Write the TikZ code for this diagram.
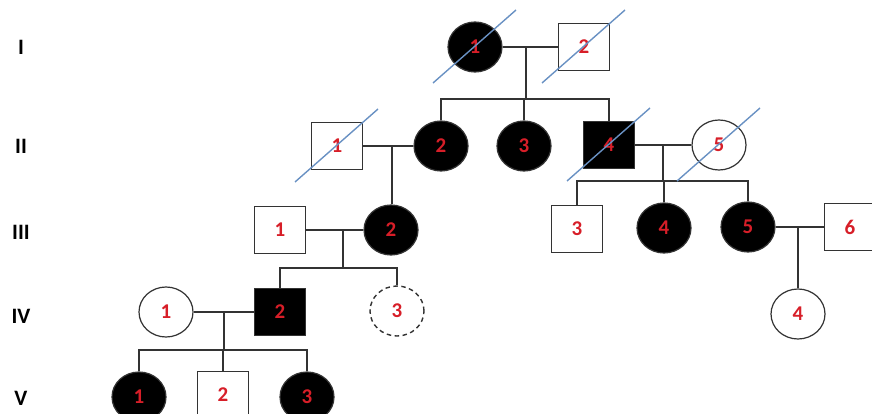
\documentclass[tikz,border=0pt]{standalone}
\usepackage{fontspec}
\setmainfont{Carlito}
\usetikzlibrary{shapes.geometric}
\definecolor{numred}{RGB}{215,30,40}
\definecolor{slashblue}{RGB}{105,145,195}
\tikzset{
	person/.style={draw=black!80, line width=1.2pt, inner sep=0pt, text=numred, font=\bfseries\fontsize{21}{24}\selectfont},
	male/.style={person, rectangle, minimum width=51pt, minimum height=47pt},
	female/.style={person, ellipse, minimum width=54pt, minimum height=50pt},
	affected/.style={fill=black},
	uncertain/.style={dash pattern=on 4.5pt off 3.5pt, line width=1.4pt},
	famline/.style={draw=black!80, line width=1.4pt},
	deadline/.style={draw=slashblue, line width=1.4pt},
	gen/.style={font=\bfseries\fontsize{22}{26}\selectfont}
}

\begin{document}
\begin{tikzpicture}[x=1pt, y=-1pt]
	\clip (0,0) rectangle (872,414);
	% generations
	\node[gen] (gI) at (21,47) {I};
	\node[gen] (gII) at (21,146) {II};
	\node[gen] (gIII) at (21,232) {III};
	\node[gen] (gIV) at (21,316) {IV};
	\node[gen] (gV) at (21,398) {V};
	% I
	\node[female, affected] (I1) at (475,47) {1};
	\node[male] (I2) at (584,47) {2};
	% II
	\node[male] (II1) at (337,146) {1};
	\node[female, affected] (II2) at (441,146) {2};
	\node[female, affected] (II3) at (524,146) {3};
	\node[male, affected] (II4) at (609,145) {4};
	\node[female] (II5) at (719,145) {5};
	% III
	\node[male] (III1) at (280,230) {1};
	\node[female, affected] (III2) at (391,230) {2};
	\node[male] (III3) at (577,229) {3};
	\node[female, affected] (III4) at (664,228) {4};
	\node[female, affected] (III5) at (748,227) {5};
	\node[male] (III6) at (850,227) {6};
	% IV
	\node[female] (IV1) at (166,312) {1};
	\node[male, affected] (IV2) at (280,312) {2};
	\node[female, uncertain] (IV3) at (397,311) {3};
	\node[female] (IV4) at (798,314) {4};
	% V
	\node[female, affected] (V1) at (139,397) {1};
	\node[male] (V2) at (223,395) {2};
	\node[female, affected] (V3) at (307,397) {3};

	\coordinate (mI) at (526,47);
	\coordinate (sI) at (526,99);
	\draw[famline] (I1) -- (I2);
	\draw[famline] (mI) -- (sI);
	\draw[famline] (II2.north) |- (sI) -| (II4.north);
	\draw[famline] (II3.north) -- (II3.north |- sI);

	\coordinate (mII) at (392,146);
	\draw[famline] (II1) -- (II2);
	\draw[famline] (mII) -- (mII |- III2.north);

	\coordinate (mIIb) at (663,145);
	\coordinate (sIIb) at (663,181);
	\draw[famline] (II4) -- (II5);
	\draw[famline] (mIIb) -- (sIIb);
	\draw[famline] (III3.north) |- (sIIb) -| (III5.north);
	\draw[famline] (III4.north) -- (III4.north |- sIIb);

	\coordinate (mIII) at (343,230);
	\coordinate (sIII) at (343,268);
	\draw[famline] (III1) -- (III2);
	\draw[famline] (mIII) -- (sIII);
	\draw[famline] (IV2.north) |- (sIII) -| (IV3.north);

	\coordinate (mIIIb) at (798,227);
	\draw[famline] (III5) -- (III6);
	\draw[famline] (mIIIb) -- (IV4.north);

	\coordinate (mIV) at (224,312);
	\coordinate (sIV) at (224,350);
	\draw[famline] (IV1) -- (IV2);
	\draw[famline] (mIV) -- (sIV);
	\draw[famline] (V1.north) |- (sIV) -| (V3.north);
	\draw[famline] (V2.north) -- (V2.north |- sIV);

	% deceased
	\foreach \who in {I1, I2, II1, II4, II5}
		\draw[deadline] (\who) +(-42,36) -- +(41,-37);
\end{tikzpicture}
\end{document}
